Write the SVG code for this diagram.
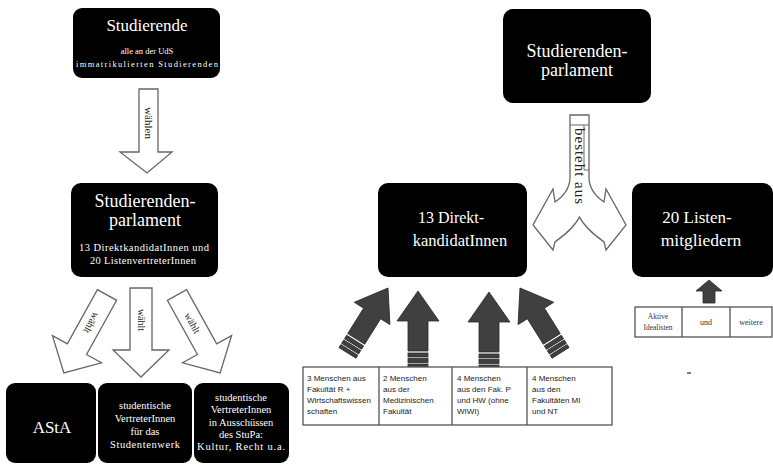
<svg xmlns="http://www.w3.org/2000/svg" width="773" height="465" viewBox="0 0 773 465">
<style>
.box{fill:#000}
.t{font-family:"Liberation Serif","Times New Roman",serif;fill:#fff;text-anchor:middle}
.at{font-family:"Liberation Serif","Times New Roman",serif;fill:#222;text-anchor:middle}
.wa{fill:#fff;stroke:#666;stroke-width:1.3;stroke-linejoin:miter}
.tb{fill:#fff;stroke:#555;stroke-width:1.3}
.st{font-family:"Liberation Sans",Arial,sans-serif;font-size:8px;fill:#222}
.sm{font-family:"Liberation Serif","Times New Roman",serif;fill:#333;text-anchor:middle}
.da{fill:#404040;stroke:#2a2a2a;stroke-width:0.8}
</style>
<defs>
<g id="darkArrow">
<path class="da" d="M0,0 L21,30 L10,30 L10,60 L-10,60 L-10,30 L-21,30 Z"/>
<rect class="da" x="-10" y="62" width="20" height="4"/>
<rect class="da" x="-10" y="67.5" width="20" height="4"/>
<rect class="da" x="-10" y="73" width="20" height="3.5"/>
</g>
<path id="whiteArrow" class="wa" d="M-11,0 L11,0 L11,62 L28,62 L0,89 L-28,62 L-11,62 Z"/>
</defs>

<g id="connectors">
<g id="arrow-waehlen">
<path class="wa" d="M139,89 L158,89 L158,152 L172,152 L147,173 L120,152 L139,152 Z"/>
<text class="at" font-size="11" transform="translate(144.5,123) rotate(90)">wählen</text>
</g>
<g id="arrow-waehlt-left" transform="translate(107,295) rotate(29)">
<use href="#whiteArrow"/>
<text class="at" font-size="10" transform="translate(-3.5,32) rotate(90)">wählt</text>
</g>
<g id="arrow-waehlt-mid" transform="translate(141,288)">
<use href="#whiteArrow"/>
<text class="at" font-size="10" transform="translate(-3.5,32) rotate(90)">wählt</text>
</g>
<g id="arrow-waehlt-right" transform="translate(177,295) rotate(-29)">
<use href="#whiteArrow"/>
<text class="at" font-size="10" transform="translate(-3.5,32) rotate(90)">wählt</text>
</g>
<g id="arrow-besteht">
<path class="wa" d="M570,115 L589,115 L589,177 C589,190 598,198 604,202 L606,189 L626,225 L606,250 L604,242 C596,236 585,228 579.5,217 C574,228 563,236 555,242 L553,250 L533,225 L553,189 L555,202 C561,198 570,190 570,177 Z"/>
<path d="M570,125 H589 M584,125 V170 H589" fill="none" stroke="#666" stroke-width="1"/>
<text class="at" font-size="15" textLength="76" transform="translate(574.5,166) rotate(90)">besteht aus</text>
</g>
<use href="#darkArrow" transform="translate(388,288) rotate(32)"/>
<use href="#darkArrow" transform="translate(418,291)"/>
<use href="#darkArrow" transform="translate(489,292)"/>
<use href="#darkArrow" transform="translate(520,288) rotate(-32)"/>
<path class="da" d="M709,280 L722,291 L715,291 L715,303 L703,303 L703,291 L696,291 Z"/>
</g>

<g id="node-studierende">
<rect class="box" x="73" y="8" width="147" height="70" rx="9"/>
<text class="t" x="147" y="31" font-size="17">Studierende</text>
<text class="t" x="147" y="54" font-size="8.5">alle an der UdS</text>
<text class="t" x="147" y="67" font-size="8.5" textLength="142">immatrikulierten Studierenden</text>
</g>

<g id="node-stupa-left">
<rect class="box" x="71" y="183" width="147" height="94" rx="10"/>
<text class="t" x="145" y="207" font-size="18">Studierenden-</text>
<text class="t" x="145" y="226" font-size="18">parlament</text>
<text class="t" x="144" y="251" font-size="10.5" textLength="130">13 DirektkandidatInnen und</text>
<text class="t" x="143" y="264" font-size="10.5" textLength="106">20 ListenvertreterInnen</text>
</g>

<g id="node-asta">
<rect class="box" x="6" y="383" width="90" height="80" rx="9"/>
<text class="t" x="52" y="433" font-size="17">AStA</text>
</g>

<g id="node-studentenwerk">
<rect class="box" x="98" y="383" width="94" height="80" rx="9"/>
<text class="t" x="145" y="409" font-size="10.5">studentische</text>
<text class="t" x="145" y="422" font-size="10.5">VertreterInnen</text>
<text class="t" x="145" y="435" font-size="10.5">für das</text>
<text class="t" x="145" y="448" font-size="10.5" textLength="70">Studentenwerk</text>
</g>

<g id="node-ausschuesse">
<rect class="box" x="194" y="383" width="95" height="80" rx="9"/>
<text class="t" x="241" y="401" font-size="10.5">studentische</text>
<text class="t" x="241" y="413" font-size="10.5">VertreterInnen</text>
<text class="t" x="241" y="426" font-size="10.5">in Ausschüssen</text>
<text class="t" x="241" y="438" font-size="10.5">des StuPa:</text>
<text class="t" x="241" y="450" font-size="10.5" textLength="88">Kultur, Recht u.a.</text>
</g>

<g id="node-stupa-right">
<rect class="box" x="503" y="9" width="148" height="94" rx="10"/>
<text class="t" x="577" y="57" font-size="18">Studierenden-</text>
<text class="t" x="577" y="76" font-size="18">parlament</text>
</g>

<g id="node-direkt">
<rect class="box" x="378" y="183" width="149" height="94" rx="10"/>
<text class="t" x="451" y="223" font-size="16">13 Direkt-</text>
<text class="t" x="460" y="246" font-size="16.5">kandidatInnen</text>
</g>

<g id="node-listen">
<rect class="box" x="632" y="183" width="141" height="94" rx="10"/>
<text class="t" x="697" y="223" font-size="17">20 Listen-</text>
<text class="t" x="701" y="246" font-size="17.5">mitgliedern</text>
</g>

<g id="table-direkt">
<rect class="tb" x="303" y="367" width="309" height="58"/>
<path d="M379,367 V425 M452,367 V425 M527,367 V425" stroke="#555" stroke-width="1.3" fill="none"/>
<text class="st" x="307" y="381">3 Menschen aus</text>
<text class="st" x="307" y="392">Fakultät R +</text>
<text class="st" x="307" y="403">Wirtschaftswissen</text>
<text class="st" x="307" y="414">schaften</text>
<text class="st" x="383" y="381">2 Menschen</text>
<text class="st" x="383" y="392">aus der</text>
<text class="st" x="383" y="403">Medizinischen</text>
<text class="st" x="383" y="414">Fakultät</text>
<text class="st" x="457" y="381">4 Menschen</text>
<text class="st" x="457" y="392">aus den Fak. P</text>
<text class="st" x="457" y="403">und HW (ohne</text>
<text class="st" x="457" y="414">WIWI)</text>
<text class="st" x="532" y="381">4 Menschen</text>
<text class="st" x="532" y="392">aus den</text>
<text class="st" x="532" y="403">Fakultäten MI</text>
<text class="st" x="532" y="414">und NT</text>
</g>

<g id="table-listen">
<rect class="tb" x="635" y="307" width="137" height="30"/>
<path d="M682,307 V337 M730,307 V337" stroke="#555" stroke-width="1.3" fill="none"/>
<text class="sm" x="658" y="319" font-size="7.5">Aktive</text>
<text class="sm" x="658" y="330" font-size="7.5">Idealisten</text>
<text class="sm" x="706" y="325" font-size="8">und</text>
<text class="sm" x="751" y="325" font-size="8">weitere</text>
</g>

<path d="M687,373 H691" stroke="#555" stroke-width="1.5"/>
</svg>
